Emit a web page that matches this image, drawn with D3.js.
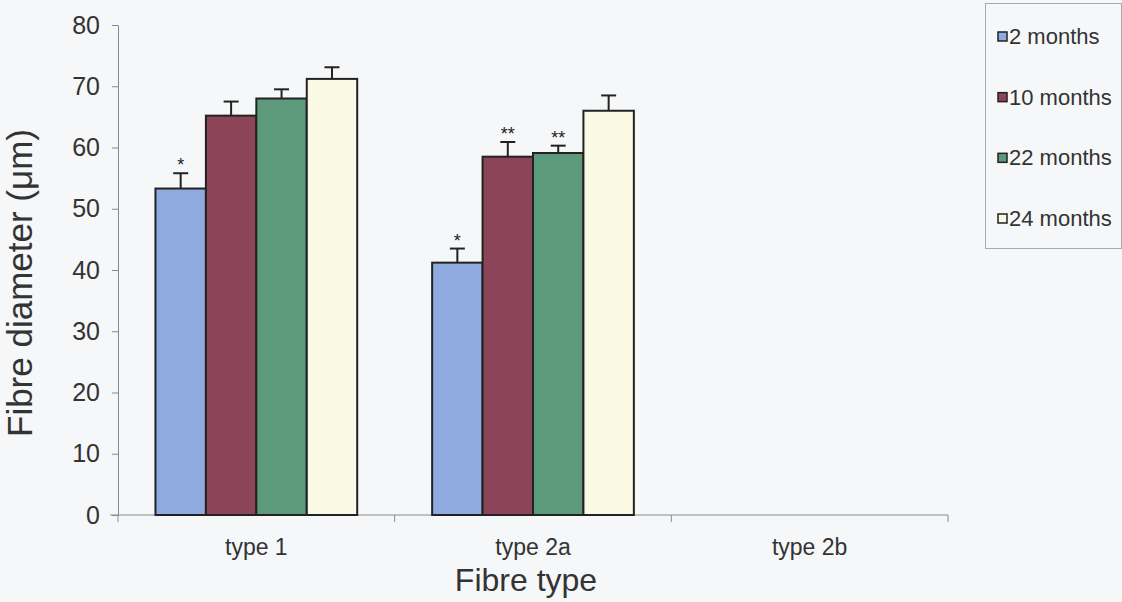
<!DOCTYPE html>
<html>
<head>
<meta charset="utf-8">
<script src="https://cdn.jsdelivr.net/npm/d3@7"></script>
<style>
  html, body { margin: 0; padding: 0; background: #f6f7f9; }
  svg { display: block; font-family: "Liberation Sans", Arial, sans-serif; }
</style>
</head>
<body>
<svg id="chart" width="1122" height="602"></svg>
<script>
// Fibre diameter by fibre type and age group (mean ± SEM)
const categories = ["type 1", "type 2a", "type 2b"];
const seriesNames = ["2 months", "10 months", "22 months", "24 months"];
const seriesColors = ["#8eaadf", "#8c4458", "#5d9a7b", "#fafae4"];
// values per series, one per category (type 2b not measured)
const months2  = [53.3, 41.2, null];
const months10 = [65.2, 58.5, null];
const months22 = [68.0, 59.1, null];
const months24 = [71.2, 66.0, null];
const err2  = [2.5, 2.3, null];
const err10 = [2.3, 2.4, null];
const err22 = [1.5, 1.2, null];
const err24 = [1.9, 2.5, null];
// significance markers drawn above the bars
const sig2  = ["*", "*", ""];
const sig10 = ["", "**", ""];
const sig22 = ["", "**", ""];
const sig24 = ["", "", ""];
const yTicks = [0, 10, 20, 30, 40, 50, 60, 70, 80];

const values = [months2, months10, months22, months24];
const errors = [err2, err10, err22, err24];
const sigs = [sig2, sig10, sig22, sig24];

const svg = d3.select("#chart");
const plot = { left: 118, right: 948, top: 25, bottom: 515 };

const x = d3.scaleBand().domain(categories).range([plot.left, plot.right]).padding(0);
const xs = d3.scaleBand().domain(seriesNames).range([0, x.bandwidth()])
  .paddingInner(0).paddingOuter(0.743);
const y = d3.scaleLinear().domain([0, 80]).range([plot.bottom, plot.top]);

const axisColor = "#8a8a8a";
const textColor = "#333";

// y axis
const yAxis = svg.append("g")
  .attr("transform", `translate(${plot.left},0)`)
  .call(d3.axisLeft(y).tickValues(yTicks).tickSize(6).tickPadding(12));
yAxis.select(".domain").attr("stroke", axisColor);
yAxis.selectAll(".tick line").attr("stroke", axisColor);
yAxis.selectAll(".tick text").attr("fill", textColor).attr("font-size", 25)
  .attr("font-family", "Liberation Sans, Arial, sans-serif");

// x axis with tick marks at category boundaries
const xAxisG = svg.append("g").attr("transform", `translate(0,${plot.bottom})`);
xAxisG.append("line").attr("x1", plot.left - 8).attr("x2", plot.right)
  .attr("stroke", axisColor);
const bounds = categories.map(c => x(c)).concat([plot.right]);
xAxisG.selectAll("line.tk").data(bounds).join("line").attr("class", "tk")
  .attr("x1", d => d).attr("x2", d => d).attr("y1", 0).attr("y2", 7)
  .attr("stroke", axisColor);
xAxisG.selectAll("text").data(categories).join("text")
  .attr("x", d => x(d) + x.bandwidth() / 2).attr("y", 40)
  .attr("text-anchor", "middle").attr("font-size", 23).attr("fill", textColor)
  .text(d => d);

// axis titles
svg.append("text").attr("x", 526).attr("y", 591).attr("text-anchor", "middle")
  .attr("font-size", 32).attr("fill", textColor).text("Fibre type");
svg.append("text").attr("transform", "translate(32,283) rotate(-90)")
  .attr("text-anchor", "middle").attr("font-size", 35).attr("fill", textColor)
  .text("Fibre diameter (\u03bcm)");

// bars, error bars and markers
const groups = svg.append("g");
seriesNames.forEach((s, si) => {
  const data = categories.map((c, ci) => ({
    c, v: values[si][ci], e: errors[si][ci], sig: sigs[si][ci]
  })).filter(d => d.v != null);
  const g = groups.append("g");
  g.selectAll("rect").data(data).join("rect")
    .attr("x", d => x(d.c) + xs(s))
    .attr("y", d => y(d.v))
    .attr("width", xs.bandwidth())
    .attr("height", d => y(0) - y(d.v))
    .attr("fill", seriesColors[si])
    .attr("stroke", "#222").attr("stroke-width", 2);
  const cx = d => x(d.c) + xs(s) + xs.bandwidth() / 2;
  g.selectAll("line.err").data(data).join("line").attr("class", "err")
    .attr("x1", cx).attr("x2", cx)
    .attr("y1", d => y(d.v)).attr("y2", d => y(d.v + d.e))
    .attr("stroke", "#222").attr("stroke-width", 2);
  g.selectAll("line.cap").data(data).join("line").attr("class", "cap")
    .attr("x1", d => cx(d) - 7.5).attr("x2", d => cx(d) + 7.5)
    .attr("y1", d => y(d.v + d.e)).attr("y2", d => y(d.v + d.e))
    .attr("stroke", "#222").attr("stroke-width", 2);
  g.selectAll("text.sig").data(data.filter(d => d.sig)).join("text").attr("class", "sig")
    .attr("x", cx).attr("y", d => y(d.v + d.e) - 2)
    .attr("text-anchor", "middle").attr("font-size", 18).attr("fill", "#222")
    .text(d => d.sig);
});

// legend
const legend = svg.append("g");
legend.append("rect").attr("x", 985.5).attr("y", 3.5).attr("width", 136).attr("height", 245)
  .attr("fill", "none").attr("stroke", "#aaa");
const ly = d3.scalePoint().domain(seriesNames).range([36, 218]);
seriesNames.forEach((s, si) => {
  legend.append("rect").attr("x", 998).attr("y", ly(s) - 4).attr("width", 9).attr("height", 9)
    .attr("fill", seriesColors[si]).attr("stroke", "#222").attr("stroke-width", 1.5);
  legend.append("text").attr("x", 1009).attr("y", ly(s) + 8)
    .attr("font-size", 22).attr("fill", textColor).text(s);
});
</script>
</body>
</html>
